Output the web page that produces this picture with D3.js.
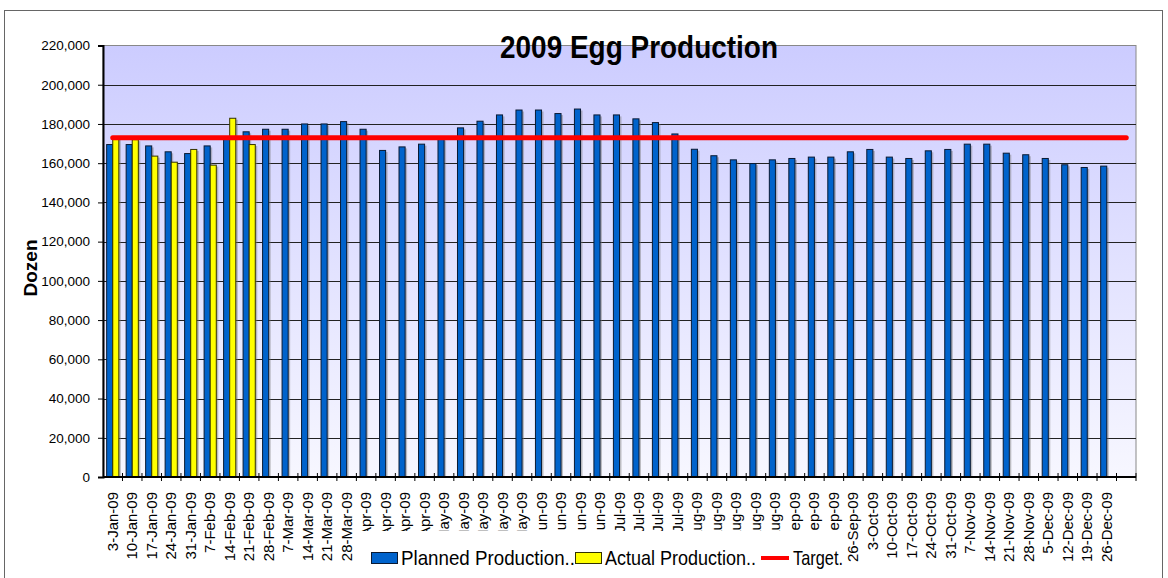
<!DOCTYPE html>
<html>
<head>
<meta charset="utf-8">
<script src="https://cdn.jsdelivr.net/npm/d3@7"></script>
<style>
  body { margin: 0; background: #fff; }
  text { font-family: "Liberation Sans", Arial, sans-serif; }
</style>
</head>
<body>
<script>
// weekly categories (last one is an empty slot, as in the original)
var weeks = ["3-Jan-09","10-Jan-09","17-Jan-09","24-Jan-09","31-Jan-09","7-Feb-09","14-Feb-09","21-Feb-09",
  "28-Feb-09","7-Mar-09","14-Mar-09","21-Mar-09","28-Mar-09","4-Apr-09","11-Apr-09","18-Apr-09","25-Apr-09",
  "2-May-09","9-May-09","16-May-09","23-May-09","30-May-09","6-Jun-09","13-Jun-09","20-Jun-09","27-Jun-09",
  "4-Jul-09","11-Jul-09","18-Jul-09","25-Jul-09","1-Aug-09","8-Aug-09","15-Aug-09","22-Aug-09","29-Aug-09",
  "5-Sep-09","12-Sep-09","19-Sep-09","26-Sep-09","3-Oct-09","10-Oct-09","17-Oct-09","24-Oct-09","31-Oct-09",
  "7-Nov-09","14-Nov-09","21-Nov-09","28-Nov-09","5-Dec-09","12-Dec-09","19-Dec-09","26-Dec-09",""];

var planned = [169500,169500,168800,165800,164900,168800,172500,176000,177300,177300,180000,180000,181200,
  177300,166500,168300,169700,172400,178000,181400,184600,187100,187100,185300,187600,184600,184600,182600,
  180700,174900,167100,163800,161700,159800,161700,162400,163100,163100,165800,167000,163100,162400,166300,
  167000,169700,169700,165100,164300,162400,159200,157800,158500];

var actual = [173500,172000,163600,160500,167000,159000,182900,169500];

var target = weeks.map(function(){ return 173000; });

var yTicks = [0,20000,40000,60000,80000,100000,120000,140000,160000,180000,200000,220000];

drawChart();

function drawChart(){
    var width = 1168, height = 578;
    var pLeft = 103, pRight = 1136, pTop = 45.5, pBottom = 477;

    var svg = d3.select("body").append("svg")
	.attr("width", width)
	.attr("height", height);

    var defs = svg.append("defs");
    var grad = defs.append("linearGradient")
	.attr("id", "bg").attr("x1", 0).attr("y1", 0).attr("x2", 0).attr("y2", 1);
    grad.append("stop").attr("offset", "0%").attr("stop-color", "#CCCCFF");
    grad.append("stop").attr("offset", "100%").attr("stop-color", "#F7F7FF");

    /* outer chart frame */
    svg.append("rect")
	.attr("x", 4.5).attr("y", 10.5)
	.attr("width", 1158).attr("height", 600)
	.attr("fill", "#fff")
	.attr("stroke", "#666");

    var x = d3.scaleBand().domain(d3.range(weeks.length)).range([pLeft, pRight]).padding(0);
    var x1 = d3.scaleBand().domain(["planned","actual"]).range([0, x.bandwidth()]).paddingOuter(0.6).paddingInner(0);
    var y = d3.scaleLinear().domain([0, 220000]).range([pBottom, pTop]);

    /* plot area */
    svg.append("rect")
	.attr("x", pLeft).attr("y", y(220000))
	.attr("width", pRight - pLeft).attr("height", pBottom - y(220000))
	.attr("fill", "url(#bg)")
	.attr("stroke", "#888");

    /* gridlines */
    svg.append("g").selectAll("line")
	.data(yTicks.filter(function(d){ return d > 0 && d < 220000; }))
	.enter().append("line")
	.attr("x1", pLeft).attr("x2", pRight)
	.attr("y1", function(d){ return Math.round(y(d)) + 0.5; })
	.attr("y2", function(d){ return Math.round(y(d)) + 0.5; })
	.attr("stroke", "#222")
	.attr("stroke-width", 1.2);

    /* bar shadows */
    svg.append("g").selectAll("rect")
	.data(planned).enter().append("rect")
	.attr("x", function(d, i){ return x(i) + x1("planned") + 2; })
	.attr("y", function(d){ return y(d) + 1.5; })
	.attr("width", x1.bandwidth())
	.attr("height", function(d){ return pBottom - y(d) - 1.5; })
	.attr("fill", "#777").attr("opacity", 0.45);
    svg.append("g").selectAll("rect")
	.data(actual).enter().append("rect")
	.attr("x", function(d, i){ return x(i) + x1("actual") + 2; })
	.attr("y", function(d){ return y(d) + 1.5; })
	.attr("width", x1.bandwidth())
	.attr("height", function(d){ return pBottom - y(d) - 1.5; })
	.attr("fill", "#777").attr("opacity", 0.45);

    /* planned bars */
    svg.append("g").selectAll("rect")
	.data(planned).enter().append("rect")
	.attr("x", function(d, i){ return x(i) + x1("planned"); })
	.attr("y", function(d){ return y(d); })
	.attr("width", x1.bandwidth())
	.attr("height", function(d){ return pBottom - y(d); })
	.attr("fill", "#0063CC")
	.attr("stroke", "#0A1A33")
	.attr("stroke-width", 1);

    /* actual bars */
    svg.append("g").selectAll("rect")
	.data(actual).enter().append("rect")
	.attr("x", function(d, i){ return x(i) + x1("actual"); })
	.attr("y", function(d){ return y(d); })
	.attr("width", x1.bandwidth())
	.attr("height", function(d){ return pBottom - y(d); })
	.attr("fill", "#FFFF00")
	.attr("stroke", "#333300")
	.attr("stroke-width", 1);

    /* target line */
    var line = d3.line()
	.x(function(d, i){ return x(i) + x.bandwidth() / 2; })
	.y(function(d){ return y(d); });
    svg.append("path")
	.datum(target)
	.attr("d", line)
	.attr("fill", "none")
	.attr("stroke", "#FF0000")
	.attr("stroke-width", 5)
	.attr("stroke-linecap", "round");

    /* y axis */
    var yAxis = svg.append("g")
	.attr("transform", "translate(" + pLeft + ",0)")
	.call(d3.axisLeft(y).tickValues(yTicks).tickSize(5).tickPadding(8)
	      .tickFormat(function(d){ return d === 0 ? "0" : d3.format(",")(d); }));
    yAxis.select(".domain").attr("stroke", "#000").attr("stroke-width", 2);
    yAxis.selectAll("line").attr("stroke", "#000");
    yAxis.selectAll("text").attr("font-size", 13.5).attr("fill", "#000")
	.style("font-family", "'Liberation Sans', Arial, sans-serif");

    /* x axis line and ticks */
    svg.append("line")
	.attr("x1", pLeft).attr("x2", pRight)
	.attr("y1", pBottom).attr("y2", pBottom)
	.attr("stroke", "#000").attr("stroke-width", 2);
    svg.append("g").selectAll("line")
	.data(d3.range(1, weeks.length + 1))
	.enter().append("line")
	.attr("x1", function(i){ return pLeft + i * x.step(); })
	.attr("x2", function(i){ return pLeft + i * x.step(); })
	.attr("y1", pBottom - 4).attr("y2", pBottom + 4)
	.attr("stroke", "#000");

    /* x labels */
    svg.append("g").selectAll("text")
	.data(weeks).enter().append("text")
	.attr("transform", function(d, i){
	    return "translate(" + (x(i) + x.bandwidth() / 2 + 5) + "," + 492 + ") rotate(-90)";
	})
	.attr("text-anchor", "end")
	.attr("font-size", 15)
	.attr("fill", "#000")
	.text(function(d){ return d; });

    /* title */
    svg.append("text")
	.attr("x", 639).attr("y", 58)
	.attr("text-anchor", "middle")
	.attr("font-size", 32)
	.attr("font-weight", "bold")
	.attr("textLength", 278)
	.attr("lengthAdjust", "spacingAndGlyphs")
	.text("2009 Egg Production");

    /* y axis title */
    svg.append("text")
	.attr("transform", "translate(37,268) rotate(-90)")
	.attr("text-anchor", "middle")
	.attr("font-size", 19)
	.attr("font-weight", "bold")
	.text("Dozen");

    /* legend (white box sits over the long tick labels) */
    var legend = svg.append("g");
    legend.append("rect")
	.attr("x", 360).attr("y", 531)
	.attr("width", 486).attr("height", 47)
	.attr("fill", "#fff");
    legend.append("rect")
	.attr("x", 371.5).attr("y", 552.5).attr("width", 26).attr("height", 11)
	.attr("fill", "#0063CC").attr("stroke", "#0A1A33");
    legend.append("text")
	.attr("x", 401).attr("y", 565)
	.attr("font-size", 21).attr("textLength", 174).attr("lengthAdjust", "spacingAndGlyphs")
	.text("Planned Production..");
    legend.append("rect")
	.attr("x", 575.5).attr("y", 552.5).attr("width", 26).attr("height", 11)
	.attr("fill", "#FFFF00").attr("stroke", "#333300");
    legend.append("text")
	.attr("x", 605).attr("y", 565)
	.attr("font-size", 21).attr("textLength", 151).attr("lengthAdjust", "spacingAndGlyphs")
	.text("Actual Production..");
    legend.append("line")
	.attr("x1", 761).attr("x2", 789).attr("y1", 558).attr("y2", 558)
	.attr("stroke", "#FF0000").attr("stroke-width", 4);
    legend.append("text")
	.attr("x", 793).attr("y", 565)
	.attr("font-size", 21).attr("textLength", 50).attr("lengthAdjust", "spacingAndGlyphs")
	.text("Target.");
}
</script>
</body>
</html>
